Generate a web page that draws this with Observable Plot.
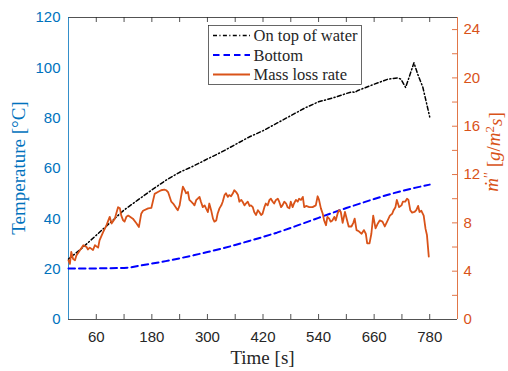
<!DOCTYPE html>
<html>
<head>
<meta charset="utf-8">
<script src="https://cdn.jsdelivr.net/npm/d3@7"></script>
<script src="https://cdn.jsdelivr.net/npm/@observablehq/plot@0.6"></script>
<style>
  body { margin: 0; background: #fff; }
  #chart { position: relative; width: 508px; height: 371px; }
  #chart svg { position: absolute; left: 0; top: 0; }
</style>
</head>
<body>
<div id="chart"></div>
<script>
// Water-surface and bottom temperatures (left axis) and mass loss rate (right axis) versus time.
const timeTop = [0, 30, 60, 90, 120, 150, 180, 210, 240, 270, 300, 330, 360, 390, 420, 450, 480, 510, 540, 570, 600, 612, 618, 625, 660, 690, 710, 718, 728, 746, 755, 765, 780];
const tempTop = [24, 28.5, 33.5, 38.5, 43.5, 47.5, 51.5, 55.3, 58.5, 61, 63.8, 66.5, 69.5, 72.5, 75, 78, 81, 84, 86.5, 88, 89.8, 90.5, 90.2, 91, 93.5, 95.5, 96, 95.5, 92.2, 102, 97, 92.4, 80.5];

const timeBottom = [0, 60, 120, 135, 150, 180, 210, 240, 270, 300, 330, 360, 390, 420, 450, 480, 510, 540, 570, 600, 630, 660, 690, 720, 750, 780];
const tempBottom = [20.3, 20.3, 20.5, 20.7, 21.3, 22.2, 23.2, 24.3, 25.5, 26.8, 28.1, 29.6, 31.2, 32.8, 34.5, 36.4, 38.4, 40.4, 42.4, 44.3, 46.1, 47.9, 49.6, 51.1, 52.4, 53.6];

const timeMass = [
  0, 3, 6, 10, 14, 17, 24, 32, 39, 42,
  46, 53, 57, 64, 67, 75, 82, 85, 89, 93,
  100, 103, 107, 111, 114, 118, 121, 125, 129, 139,
  147, 152, 157, 161, 172, 179, 186, 193, 200, 207,
  211, 215, 222, 226, 233, 236, 240, 243, 247, 251,
  254, 258, 261, 265, 269, 272, 276, 279, 283, 286,
  290, 294, 297, 301, 304, 308, 312, 315, 319, 322,
  326, 330, 333, 337, 340, 344, 347, 351, 355, 358,
  362, 366, 369, 373, 376, 380, 383, 387, 391, 394,
  398, 401, 405, 409, 412, 416, 419, 423, 426, 430,
  434, 437, 441, 444, 448, 452, 455, 459, 462, 466,
  470, 473, 477, 480, 484, 487, 491, 495, 498, 502,
  506, 509, 513, 520, 527, 534, 538, 541, 545, 549,
  552, 556, 559, 563, 566, 570, 574, 577, 581, 584,
  588, 592, 597, 601, 605, 611, 615, 618, 622, 627,
  633, 638, 642, 645, 650, 654, 658, 663, 668, 672,
  678, 683, 688, 694, 699, 702, 706, 709, 714, 719,
  722, 727, 731, 734, 738, 742, 747, 751, 755, 758,
  762, 767, 771, 774, 778
];
const massRate = [
  4.9, 4.6, 5.6, 5.0, 4.9, 5.3, 5.7, 6.15, 6.0, 5.8,
  5.95, 5.75, 6.15, 5.95, 6.55, 7.25, 7.8, 8.1, 8.5, 7.95,
  8.35, 8.75, 9.3, 9.2, 8.6, 8.2, 8.1, 8.5, 8.6, 8.35,
  7.95, 7.65, 8.75, 9.0, 9.2, 9.25, 10.4, 10.55, 10.7, 10.75,
  10.7, 10.55, 9.75, 9.6, 9.2, 9.05, 9.45, 10.15, 11.0, 10.7,
  10.45, 10.55, 9.9, 9.75, 9.6, 9.45, 9.9, 10.0, 10.15, 9.75,
  9.3, 9.45, 9.2, 8.9, 9.6, 9.05, 8.35, 8.1, 8.2, 8.75,
  9.2, 9.45, 9.75, 10.3, 10.45, 10.15, 10.3, 10.2, 10.45, 10.7,
  10.55, 10.3, 9.75, 9.9, 9.75, 9.45, 9.6, 9.75, 9.4, 9.45,
  9.3, 8.9, 8.65, 9.05, 8.9, 8.65, 8.75, 9.3, 9.6, 9.45,
  9.9, 10.0, 9.75, 9.6, 9.9, 10.0, 9.75, 9.3, 9.45, 9.75,
  9.6, 9.3, 9.2, 9.75, 9.3, 9.6, 9.9, 9.75, 10.0, 9.9,
  10.15, 9.3, 9.4, 9.3, 9.3, 9.45, 10.2, 9.9, 9.2, 8.75,
  8.2, 7.8, 8.5, 8.35, 8.1, 8.2, 8.5, 8.2, 8.75, 9.05,
  8.9, 8.0, 8.9, 8.3, 7.7, 7.7, 8.0, 8.35, 7.4, 7.3,
  7.1, 7.4, 7.1, 6.3, 6.3, 7.1, 8.6, 7.55, 7.95, 8.2,
  8.1, 7.7, 8.1, 8.6, 8.75, 9.05, 9.3, 9.9, 9.3, 9.45,
  9.75, 9.75, 10.0, 9.9, 9.05, 8.85, 8.9, 9.05, 9.4, 8.9,
  9.0, 8.6, 7.5, 7.0, 5.2
];

// Axis ticks and labels
const timeTicks = [60, 120, 180, 240, 300, 360, 420, 480, 540, 600, 660, 720, 780];
const timeLabels = [60, 180, 300, 420, 540, 660, 780];
const tempLabels = [0, 20, 40, 60, 80, 100, 120];
const massTicks = [2, 4, 6, 8, 10, 12, 14, 16, 18, 20, 22, 24];
const massLabels = [0, 4, 8, 12, 16, 20, 24];

const seriesNames = ["On top of water", "Bottom", "Mass loss rate"];

const topRows = timeTop.map((t, i) => ({t, v: tempTop[i]}));
const bottomRows = timeBottom.map((t, i) => ({t, v: tempBottom[i]}));
const massRows = timeMass.map((t, i) => ({t, v: massRate[i]}));

const W = 508, H = 371;
const M = {top: 17, right: 51, bottom: 52, left: 68};
const FW = W - M.left - M.right;
const FH = H - M.top - M.bottom;
const LEFT_C = "#0072BD", RIGHT_C = "#D95319", INK = "#262626";
const SANS = "'Liberation Sans', Arial, Helvetica, sans-serif";
const SERIF = "'Liberation Serif', 'Times New Roman', 'DejaVu Serif', serif";
const DASH_DOT = "4,2.4,1.1,2.4";
const DASH = "6.5,4";

const base = {
  width: W, height: H,
  marginTop: M.top, marginRight: M.right, marginBottom: M.bottom, marginLeft: M.left,
  x: {domain: [0, 840], label: null, axis: null},
  style: {background: "transparent", fontFamily: SANS, fontSize: "15px", overflow: "visible"}
};

const tempChart = Plot.plot({
  ...base,
  y: {domain: [0, 120], label: null, axis: null},
  marks: [
    Plot.ruleY([120], {stroke: INK, strokeWidth: 0.8}),
    Plot.ruleY([0], {stroke: INK, strokeWidth: 0.8}),
    Plot.ruleX(timeTicks, {stroke: INK, strokeWidth: 0.8, insetTop: FH - 5}),
    Plot.ruleX(timeTicks, {stroke: INK, strokeWidth: 0.8, insetBottom: FH - 5}),
    Plot.ruleX([0], {stroke: LEFT_C, strokeWidth: 0.8}),
    Plot.axisX(timeLabels, {anchor: "bottom", tickSize: 0, tickPadding: 12, fill: INK, label: null}),
    Plot.axisY(tempLabels, {anchor: "left", tickSize: 0, tickPadding: 8, fill: LEFT_C, label: null}),
    Plot.line(topRows, {x: "t", y: "v", stroke: "#000", strokeWidth: 1.5, strokeDasharray: DASH_DOT}),
    Plot.line(bottomRows, {x: "t", y: "v", stroke: "#0000FF", strokeWidth: 2, strokeDasharray: DASH})
  ]
});

const massChart = Plot.plot({
  ...base,
  y: {domain: [0, 25], label: null, axis: null},
  marks: [
    Plot.ruleX([840], {stroke: RIGHT_C, strokeWidth: 0.8}),
    Plot.ruleY(massTicks, {stroke: RIGHT_C, strokeWidth: 0.8, insetLeft: FW - 5}),
    Plot.axisY(massLabels, {anchor: "right", tickSize: 0, tickPadding: 6, fill: RIGHT_C, label: null}),
    Plot.line(massRows, {x: "t", y: "v", stroke: RIGHT_C, strokeWidth: 1.8})
  ]
});

const host = document.getElementById("chart");
host.append(tempChart, massChart);

// Overlay: axis titles and legend box
const over = d3.select(host).append("svg")
  .attr("width", W).attr("height", H);

const midX = M.left + FW / 2, midY = M.top + FH / 2;

over.append("text")
  .attr("x", midX).attr("y", 364)
  .attr("text-anchor", "middle")
  .attr("font-family", SERIF).attr("font-size", 19).attr("fill", INK)
  .text("Time [s]");

over.append("text")
  .attr("transform", `translate(19,${midY}) rotate(-90)`)
  .attr("text-anchor", "middle").attr("dy", "0.32em")
  .attr("font-family", SERIF).attr("font-size", 19).attr("fill", LEFT_C)
  .text("Temperature [°C]");

// ṁ'' [g/m²s]
const rt = over.append("text")
  .attr("transform", "translate(492,152) rotate(-90)")
  .attr("text-anchor", "middle").attr("dy", "0.32em")
  .attr("font-family", SERIF).attr("font-size", 19).attr("fill", RIGHT_C);
rt.append("tspan").attr("font-style", "italic").text("ṁ");
rt.append("tspan").attr("dy", "-0.3em").attr("font-size", 14).text("′′");
rt.append("tspan").attr("dy", "0.3em").text(" [");
rt.append("tspan").attr("font-style", "italic").text("g");
rt.append("tspan").text("/");
rt.append("tspan").attr("font-style", "italic").text("m");
rt.append("tspan").attr("dy", "-0.4em").attr("font-size", 13).text("2");
rt.append("tspan").attr("dy", "0.4em").attr("font-style", "italic").text("s");
rt.append("tspan").text("]");

const lg = over.append("g").attr("transform", "translate(208.5,25.5)");
lg.append("rect").attr("width", 153).attr("height", 59)
  .attr("fill", "#fff").attr("stroke", INK).attr("stroke-width", 0.7);
const styles = [
  {stroke: "#000", width: 1.5, dash: DASH_DOT},
  {stroke: "#0000FF", width: 2, dash: DASH},
  {stroke: RIGHT_C, width: 1.8, dash: null}
];
seriesNames.forEach((name, i) => {
  const y = 10 + i * 19.5;
  lg.append("line").attr("x1", 4.5).attr("x2", 41.5).attr("y1", y).attr("y2", y)
    .attr("stroke", styles[i].stroke).attr("stroke-width", styles[i].width)
    .attr("stroke-dasharray", styles[i].dash);
  lg.append("text").attr("x", 45).attr("y", y).attr("dy", "0.35em")
    .attr("font-family", SERIF).attr("font-size", 16.5).attr("fill", INK)
    .text(name);
});
</script>
</body>
</html>
